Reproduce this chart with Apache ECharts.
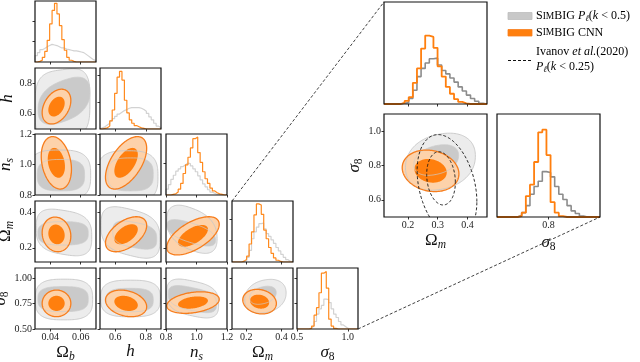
<!DOCTYPE html>
<html>
<head>
<meta charset="utf-8">
<script src="https://cdn.jsdelivr.net/npm/echarts@6.0.0/dist/echarts.min.js"></script>
<style>
  html, body { margin: 0; padding: 0; background: #fff; }
  #chart { width: 640px; height: 362px; }
</style>
</head>
<body>
<div id="chart"></div>
<script>
// parameters: Omega_b, h, n_s, Omega_m, sigma_8
const PARAM_LABELS = ['{u|Ω}{s|b}', '{i|h}', '{i|n}{s|s}', '{u|Ω}{s|m}', '{i|σ}{su|8}'];
const PARAM_RANGES = [[0.03, 0.07], [0.5, 0.9], [0.8, 1.2], [0.12, 0.465], [0.5, 1.1]];
const X_TICKS = [[0.04, 0.06], [0.6, 0.8], [0.8, 1.0, 1.2], [0.2, 0.4], [0.5, 1.0]];
const X_DECIMALS = [2, 1, 1, 1, 1];
const Y_TICKS = [[], [0.6, 0.8], [0.8, 1.0, 1.2], [0.2, 0.4], [0.5, 0.75, 1.0]];
const Y_DECIMALS = [2, 1, 1, 1, 2];

// marginal histograms, 25 bins spanning each parameter range
const CNN_OMB = [0, 1, 3, 8, 18, 37, 65, 88, 100, 82, 62, 38, 20, 8, 3, 1, 0, 0, 0, 0, 0, 0, 0, 0, 0];
const PK_OMB = [11, 16, 21, 23, 26, 28, 30, 29, 28, 26, 24, 24, 22, 21, 20, 19, 19, 18, 17, 16, 13, 10, 7, 4, 2];
const CNN_H = [0, 1, 2, 5, 14, 33, 62, 90, 100, 85, 50, 28, 16, 10, 6, 4, 2, 1, 0, 0, 0, 0, 0, 0, 0];
const PK_H = [2, 4, 7, 10, 14, 18, 22, 26, 29, 32, 34, 36, 37, 37, 37, 37, 36, 34, 31, 27, 21, 16, 10, 5, 2];
const CNN_NS = [0, 0, 1, 2, 5, 10, 20, 37, 52, 65, 81, 97, 100, 73, 56, 40, 28, 20, 12, 7, 4, 2, 1, 0, 0];
const PK_NS = [10, 18, 27, 34, 41, 45, 49, 52, 55, 54, 50, 45, 40, 33, 26, 19, 14, 9, 5, 3, 1, 1, 0, 0, 0];
const CNN_OMM = [0, 0, 0, 0, 1.5, 4.5, 10, 31, 52, 81, 100, 98, 82, 55, 40, 25, 15, 7, 3, 1, 0, 0, 0, 0, 0];
const PK_OMM = [0, 0, 0, 0, 1, 2, 8, 20, 40, 52, 60, 66, 67, 57, 49, 44, 38, 32, 25, 19, 13, 8, 4, 1, 0];
const CNN_S8 = [0, 0, 0, 0, 0, 1, 5, 24, 37, 63, 97, 100, 71, 17, 5, 1, 0, 0, 0, 0, 0, 0, 0, 0, 0];
const PK_S8 = [0, 0, 0, 0, 0, 2, 5, 13, 26, 35, 41, 52, 51, 46, 35, 26, 20, 13, 7, 4, 1, 0, 0, 0, 0];
const HIST_TICKS = [[35, 70], [47, 94], [55], [37, 74], [44, 88]];
const HIST_MAX = [104, 106, 105, 105, 106];

// 2D contours: [xParam, yParam, cx, cy, half-width x, half-width y, corr]
const CNN_ELLIPSES = [
  [0, 1, 0.0441, 0.647, 0.0094, 0.114, 0.35],
  [0, 2, 0.0440, 1.011, 0.0099, 0.172, -0.25],
  [0, 3, 0.0441, 0.276, 0.0094, 0.098, -0.1],
  [0, 4, 0.0441, 0.752, 0.0094, 0.131, 0.0],
  [1, 2, 0.671, 1.011, 0.135, 0.172, 0.55],
  [1, 3, 0.671, 0.277, 0.135, 0.099, 0.5],
  [1, 4, 0.671, 0.752, 0.135, 0.131, -0.25],
  [2, 3, 0.977, 0.268, 0.172, 0.108, 0.6],
  [2, 4, 0.977, 0.76, 0.172, 0.106, 0.3],
  [3, 4, 0.276, 0.769, 0.095, 0.121, -0.15]
];
const CNN_INNER_SCALE = 0.57;
// P_l contours, last entry = squareness of the shape
const PK_OUTER = [
  [0, 1, 0.048, 0.66, 0.018, 0.23, 0.1, 3.5],
  [0, 2, 0.046, 0.93, 0.0205, 0.165, 0, 3],
  [0, 3, 0.049, 0.287, 0.0182, 0.127, -0.2, 3],
  [0, 4, 0.049, 0.79, 0.0188, 0.2, 0, 3],
  [1, 2, 0.68, 0.92, 0.2, 0.17, 0, 3],
  [1, 3, 0.70, 0.287, 0.193, 0.137, -0.3, 3],
  [1, 4, 0.70, 0.80, 0.195, 0.18, 0, 3],
  [2, 3, 0.97, 0.305, 0.165, 0.13, -0.4, 2.5],
  [2, 4, 0.975, 0.80, 0.17, 0.18, -0.3, 3],
  [3, 4, 0.309, 0.822, 0.117, 0.165, 0.2, 2.2]
];
const PK_INNER = [
  [0, 1, 0.049, 0.685, 0.017, 0.148, 0.4, 2.5],
  [0, 2, 0.047, 0.93, 0.0155, 0.103, 0, 3],
  [0, 3, 0.0484, 0.282, 0.0165, 0.066, 0, 3],
  [0, 4, 0.0484, 0.794, 0.0165, 0.123, 0, 3],
  [1, 2, 0.70, 0.935, 0.149, 0.108, 0, 3],
  [1, 3, 0.728, 0.272, 0.144, 0.075, -0.3, 3],
  [1, 4, 0.695, 0.785, 0.154, 0.115, 0, 3],
  [2, 3, 0.965, 0.285, 0.16, 0.07, -0.6, 2.5],
  [2, 4, 0.973, 0.794, 0.158, 0.123, -0.4, 3],
  [3, 4, 0.295, 0.832, 0.075, 0.088, 0.3, 2.2]
];
// Ivanov et al. (2020) Omega_m - sigma_8 contours
const IVANOV_OUTER = [0.331, 0.68, 0.1, 0.3, -0.3];
const IVANOV_INNER = [0.311, 0.725, 0.048, 0.155, -0.15];

// zoomed-in panel
const INSET_OMM_TICKS = [0.2, 0.3, 0.4];
const INSET_S8_TICKS = [0.6, 0.8, 1.0];
const INSET_S8_HIST_TICKS = [0.8];
const INSET_HIST_MAX = [149, 118];

const LEGEND_TEXTS = [
  '{r|S}{sc|IM}{r|BIG }{i|P}{s|ℓ}{r|(}{i|k}{r| < 0.5)}',
  '{r|S}{sc|IM}{r|BIG CNN}',
  '{r|Ivanov }{i|et al.}{r|(2020)}',
  '{i|P}{s|ℓ}{r|(}{i|k}{r| < 0.25)}'
];

// layout
const COL_X = [35, 100, 166, 232, 297];
const ROW_Y = [1, 68, 134, 201, 268];
const CELL = 61;
const INSET_TOP = [384, 2, 103, 102];
const INSET_LEFT = [384, 114, 103, 103];
const INSET_RIGHT = [497, 114, 103, 103];

const FONT = 'Liberation Serif';
const GRAY_LIGHT = '#ececec';
const GRAY_DARK = '#cacaca';
const GRAY_LINE = 'rgba(200,200,200,0.9)';
const ORANGE = '#ff7f0e';
const ORANGE_LIGHT = '#fdd2aa';
const ORANGE_LINE = '#f77d1c';

const NAME_STYLE = {
  color: '#111',
  rich: {
    u: { fontFamily: FONT, fontSize: 17, color: '#111' },
    i: { fontFamily: FONT, fontSize: 17, fontStyle: 'italic', color: '#111' },
    s: { fontFamily: FONT, fontSize: 11.5, fontStyle: 'italic', padding: [9, 0, 0, 0], color: '#111' },
    su: { fontFamily: FONT, fontSize: 11.5, padding: [9, 0, 0, 0], color: '#111' }
  }
};
const LEGEND_RICH = {
  r: { fontFamily: FONT, fontSize: 12, color: '#222' },
  sc: { fontFamily: FONT, fontSize: 9.5, color: '#222' },
  i: { fontFamily: FONT, fontSize: 12, fontStyle: 'italic', color: '#222' },
  s: { fontFamily: FONT, fontSize: 8.5, fontStyle: 'italic', padding: [6, 0, 0, 0], color: '#222' }
};

const grids = [];
const xAxes = [];
const yAxes = [];
const series = [];

function valueAxis(range, ticks, showLabels, decimals) {
  return {
    type: 'value',
    min: range[0],
    max: range[1],
    splitLine: { show: false },
    axisLine: { show: false },
    axisTick: {
      show: ticks.length > 0,
      length: 2.5,
      lineStyle: { color: '#000', width: 0.8 },
      customValues: ticks
    },
    axisLabel: {
      show: showLabels,
      customValues: ticks,
      formatter: (v) => v.toFixed(decimals),
      margin: 3,
      fontFamily: FONT,
      fontSize: 10,
      color: '#222'
    }
  };
}

function addGrid(box, xa, ya) {
  const gi = grids.length;
  grids.push({
    left: box[0], top: box[1], width: box[2], height: box[3],
    show: true, z: 10, backgroundColor: 'transparent',
    borderColor: '#111', borderWidth: 1.2,
    containLabel: false, outerBoundsMode: 'none'
  });
  xAxes.push(Object.assign({ gridIndex: gi }, xa));
  yAxes.push(Object.assign({ gridIndex: gi }, ya));
  return gi;
}

function histSeries(gi, values, range, color, width) {
  const step = (range[1] - range[0]) / values.length;
  const data = [[range[0], 0]];
  values.forEach((v, k) => data.push([range[0] + k * step, v]));
  data.push([range[1], 0]);
  return {
    type: 'line', xAxisIndex: gi, yAxisIndex: gi, step: 'end', symbol: 'none',
    silent: true, clip: true, data, lineStyle: { color, width }
  };
}

function shapePoints(c, scale, expo) {
  const [cx, cy, ax, ay, rho] = c;
  const k = Math.sqrt(1 - rho * rho);
  const pts = [];
  for (let t = 0; t < 144; t++) {
    const a = (t / 144) * 2 * Math.PI;
    const ca = Math.cos(a);
    const sa = Math.sin(a);
    const u = Math.sign(ca) * Math.pow(Math.abs(ca), 2 / expo);
    const v = Math.sign(sa) * Math.pow(Math.abs(sa), 2 / expo);
    pts.push([cx + scale * ax * u, cy + scale * ay * (rho * u + k * v)]);
  }
  return pts;
}

function findPair(list, i, j) {
  const row = list.find((r) => r[0] === i && r[1] === j);
  return row.slice(2);
}

function contourSeries(gi, i, j, withIvanov) {
  const pkOut = findPair(PK_OUTER, i, j);
  const pkIn = findPair(PK_INNER, i, j);
  const cnn = findPair(CNN_ELLIPSES, i, j);
  return {
    type: 'custom', xAxisIndex: gi, yAxisIndex: gi, clip: true, silent: true,
    data: [0],
    renderItem: (params, api) => {
      const children = [];
      const poly = (pts, style) => children.push({
        type: 'polygon', shape: { points: pts.map((p) => api.coord(p)) }, style
      });
      const pkOutPts = shapePoints(pkOut, 1, pkOut[5]);
      const pkInPts = shapePoints(pkIn, 1, pkIn[5]);
      const cnnOutPts = shapePoints(cnn, 1, 2);
      poly(pkOutPts, { fill: GRAY_LIGHT });
      poly(pkInPts, { fill: GRAY_DARK });
      poly(cnnOutPts, { fill: ORANGE_LIGHT });
      poly(shapePoints(cnn, CNN_INNER_SCALE, 2), { fill: ORANGE });
      poly(pkOutPts, { fill: 'none', stroke: GRAY_LINE, lineWidth: 1 });
      poly(pkInPts, { fill: 'none', stroke: 'rgba(205,205,205,0.8)', lineWidth: 0.9 });
      poly(cnnOutPts, { fill: 'none', stroke: ORANGE_LINE, lineWidth: 1.3 });
      if (withIvanov) {
        poly(shapePoints(IVANOV_OUTER, 1, 2), { fill: 'none', stroke: '#111', lineWidth: 0.9, lineDash: [3, 2] });
        poly(shapePoints(IVANOV_INNER, 1, 2), { fill: 'none', stroke: '#111', lineWidth: 0.9, lineDash: [3, 2] });
      }
      return { type: 'group', children };
    }
  };
}

const CNN_HISTS = [CNN_OMB, CNN_H, CNN_NS, CNN_OMM, CNN_S8];
const PK_HISTS = [PK_OMB, PK_H, PK_NS, PK_OMM, PK_S8];

// corner plot
for (let j = 0; j < 5; j++) {
  for (let i = 0; i <= j; i++) {
    const bottomRow = j === 4;
    const xa = valueAxis(PARAM_RANGES[i], X_TICKS[i], bottomRow, X_DECIMALS[i]);
    if (bottomRow) {
      Object.assign(xa, { name: PARAM_LABELS[i], nameLocation: 'middle', nameGap: 13, nameTextStyle: NAME_STYLE });
    }
    let ya;
    if (i === j) {
      ya = valueAxis([0, HIST_MAX[i]], HIST_TICKS[i], false, 0);
    } else {
      ya = valueAxis(PARAM_RANGES[j], Y_TICKS[j], i === 0, Y_DECIMALS[j]);
      if (i === 0) {
        Object.assign(ya, { name: PARAM_LABELS[j], nameLocation: 'middle', nameRotate: 90, nameGap: 13, nameTextStyle: NAME_STYLE });
      }
    }
    const gi = addGrid([COL_X[i], ROW_Y[j], CELL, CELL], xa, ya);
    if (i === j) {
      series.push(histSeries(gi, PK_HISTS[i], PARAM_RANGES[i], '#d2d2d2', 1.2));
      series.push(histSeries(gi, CNN_HISTS[i], PARAM_RANGES[i], '#ff8a1e', 1.2));
    } else {
      series.push(contourSeries(gi, i, j, false));
    }
  }
}

// zoomed Omega_m - sigma_8 panels
{
  const gTop = addGrid(INSET_TOP,
    valueAxis(PARAM_RANGES[3], INSET_OMM_TICKS, false, 1),
    valueAxis([0, INSET_HIST_MAX[0]], [], false, 0));
  series.push(histSeries(gTop, PK_OMM, PARAM_RANGES[3], '#8c8c8c', 1.6));
  series.push(histSeries(gTop, CNN_OMM, PARAM_RANGES[3], ORANGE, 1.8));

  const xa = valueAxis(PARAM_RANGES[3], INSET_OMM_TICKS, true, 1);
  Object.assign(xa, { name: PARAM_LABELS[3], nameLocation: 'middle', nameGap: 13, nameTextStyle: NAME_STYLE });
  const ya = valueAxis(PARAM_RANGES[4], INSET_S8_TICKS, true, 1);
  Object.assign(ya, { name: PARAM_LABELS[4], nameLocation: 'middle', nameRotate: 90, nameGap: 13, nameTextStyle: NAME_STYLE });
  const gMid = addGrid(INSET_LEFT, xa, ya);
  series.push(contourSeries(gMid, 3, 4, true));

  const xr = valueAxis(PARAM_RANGES[4], INSET_S8_HIST_TICKS, true, 1);
  Object.assign(xr, { name: PARAM_LABELS[4], nameLocation: 'middle', nameGap: 15, nameTextStyle: NAME_STYLE });
  const gRight = addGrid(INSET_RIGHT, xr, valueAxis([0, INSET_HIST_MAX[1]], [], false, 0));
  series.push(histSeries(gRight, PK_S8, PARAM_RANGES[4], '#8c8c8c', 1.6));
  series.push(histSeries(gRight, CNN_S8, PARAM_RANGES[4], ORANGE, 1.8));
}

const dashed = { stroke: '#111', lineWidth: 0.8, lineDash: [3, 2] };
const graphic = [
  // zoom connectors
  { type: 'line', z: 50, shape: { x1: COL_X[3], y1: ROW_Y[3], x2: INSET_TOP[0], y2: INSET_TOP[1] }, style: dashed },
  { type: 'line', z: 50, shape: { x1: COL_X[4] + CELL, y1: ROW_Y[4] + CELL, x2: INSET_RIGHT[0] + INSET_RIGHT[2], y2: INSET_RIGHT[1] + INSET_RIGHT[3] }, style: dashed },
  // legend
  { type: 'rect', z: 50, shape: { x: 508, y: 12.5, width: 24, height: 7 }, style: { fill: '#c8c8c8', stroke: '#bdbdbd', lineWidth: 0.8 } },
  { type: 'text', z: 50, x: 536, y: 16, style: { text: LEGEND_TEXTS[0], rich: LEGEND_RICH, verticalAlign: 'middle' } },
  { type: 'rect', z: 50, shape: { x: 508, y: 29.5, width: 24, height: 6.5 }, style: { fill: ORANGE, stroke: ORANGE_LINE, lineWidth: 0.8 } },
  { type: 'text', z: 50, x: 536, y: 32.5, style: { text: LEGEND_TEXTS[1], rich: LEGEND_RICH, verticalAlign: 'middle' } },
  { type: 'line', z: 50, shape: { x1: 508, y1: 60.5, x2: 532, y2: 60.5 }, style: { stroke: '#111', lineWidth: 1, lineDash: [3, 2] } },
  { type: 'text', z: 50, x: 536, y: 52, style: { text: LEGEND_TEXTS[2], rich: LEGEND_RICH, verticalAlign: 'middle' } },
  { type: 'text', z: 50, x: 536, y: 67, style: { text: LEGEND_TEXTS[3], rich: LEGEND_RICH, verticalAlign: 'middle' } }
];

const chart = echarts.init(document.getElementById('chart'), null, { renderer: 'canvas' });
chart.setOption({
  animation: false,
  backgroundColor: '#fff',
  grid: grids,
  xAxis: xAxes,
  yAxis: yAxes,
  series,
  graphic
});
</script>
</body>
</html>
